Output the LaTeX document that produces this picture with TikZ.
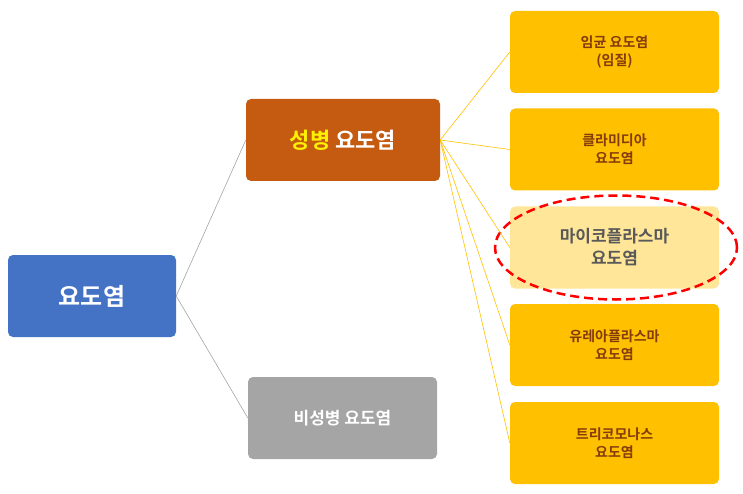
\documentclass[tikz,border=0pt]{standalone}
\usepackage{fontspec}
\setmainfont{Noto Sans CJK KR}[BoldFont={* Bold}]
\usetikzlibrary{shapes.geometric}
\definecolor{cblue}{HTML}{4472C4}
\definecolor{corange}{HTML}{C55A11}
\definecolor{cgray}{HTML}{A5A5A5}
\definecolor{cgold}{HTML}{FFC000}
\definecolor{clight}{HTML}{FFE699}
\definecolor{cbrown}{HTML}{843C0C}
\definecolor{cdark}{HTML}{595959}
\begin{document}
\begin{tikzpicture}[x=1pt,y=-1pt,
  box/.style={rounded corners=5pt,inner sep=0pt,align=center,font=\bfseries,text=white,minimum height=82pt},
  leaf/.style={box,fill=cgold,text=cbrown,minimum width=209pt,font=\bfseries\fontsize{14}{18}\selectfont},
  lnk/.style={cgray,line width=0.6pt},
  ylnk/.style={cgold,line width=0.6pt}]
\useasboundingbox (0,0) rectangle (743,494);
\node[box,fill=cblue,minimum width=168pt,font=\bfseries\fontsize{24}{28}\selectfont] (root) at (92,296) {요도염};
\node[box,fill=corange,minimum width=194pt,font=\bfseries\fontsize{22}{26}\selectfont] (std) at (343,140) {\textcolor{yellow}{성병} 요도염};
\node[box,fill=cgray,minimum width=189pt,font=\bfseries\fontsize{17}{20}\selectfont] (nstd) at (342.5,418) {비성병 요도염};
\node[leaf] (l1) at (614.5,52) {임균 요도염\\(임질)};
\node[leaf] (l2) at (614.5,149.5) {클라미디아\\요도염};
\node[leaf,fill=clight,text=cdark,font=\bfseries\fontsize{17}{22}\selectfont] (l3) at (614.5,247.5) {마이코플라스마\\요도염};
\node[leaf] (l4) at (614.5,345) {유레아플라스마\\요도염};
\node[leaf] (l5) at (614.5,443) {트리코모나스\\요도염};
\node[ellipse,draw=red,dashed,line width=2.5pt,dash pattern=on 9pt off 5pt,minimum width=242pt,minimum height=104pt] (hl) at (616,247.5) {};
\draw[lnk] (root.east) -- (std.west);
\draw[lnk] (root.east) -- (nstd.west);
\foreach \n in {l1,l2,l3,l4,l5} \draw[ylnk] (std.east) -- (\n.west);
\end{tikzpicture}
\end{document}
